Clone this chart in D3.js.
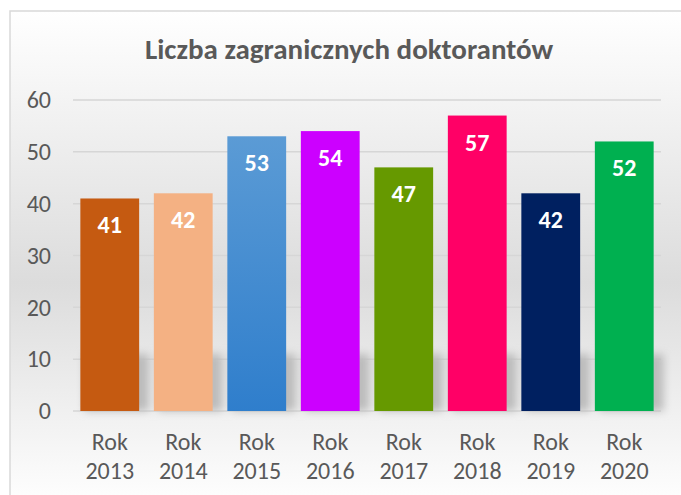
<!DOCTYPE html>
<html>
<head>
<meta charset="utf-8">
<script src="https://cdn.jsdelivr.net/npm/d3@7"></script>
<style>
  body { margin: 0; background: #fff; }
  svg { display: block; }
</style>
</head>
<body>
<script>
// dane z wykresu
const years = ["2013", "2014", "2015", "2016", "2017", "2018", "2019", "2020"];
const values = [41, 42, 53, 54, 47, 57, 42, 52];
const barColors = ["#C55A11", "#F4B183", "url(#blueGrad)", "#CC00FF", "#669900", "#FF0066", "#002060", "#00B050"];
const yTicks = [0, 10, 20, 30, 40, 50, 60];
const title = "Liczba zagranicznych doktorantów";

const width = 681, height = 495;
const margin = {top: 100, right: 20, bottom: 84, left: 73};
const font = "Carlito, 'Open Sans', 'Liberation Sans', sans-serif";

const svg = d3.select("body").append("svg")
    .attr("width", width)
    .attr("height", height);

const defs = svg.append("defs");

const bg = defs.append("linearGradient")
    .attr("id", "bgGrad")
    .attr("x1", 0).attr("y1", 0).attr("x2", 0).attr("y2", 1);
bg.append("stop").attr("offset", "0%").attr("stop-color", "#ffffff");
bg.append("stop").attr("offset", "55%").attr("stop-color", "#dcdcdc");
bg.append("stop").attr("offset", "100%").attr("stop-color", "#ffffff");

const blue = defs.append("linearGradient")
    .attr("id", "blueGrad")
    .attr("x1", 0).attr("y1", 0).attr("x2", 0).attr("y2", 1);
blue.append("stop").attr("offset", "0%").attr("stop-color", "#5B9BD5");
blue.append("stop").attr("offset", "100%").attr("stop-color", "#2F7ECC");

defs.append("filter")
    .attr("id", "blur")
    .attr("x", "-30%").attr("y", "-30%").attr("width", "160%").attr("height", "160%")
  .append("feGaussianBlur")
    .attr("stdDeviation", 4);

// tło + ramka
svg.append("rect")
    .attr("x", 10).attr("y", 11)
    .attr("width", width).attr("height", height)
    .attr("fill", "url(#bgGrad)")
    .attr("stroke", "#d9d9d9")
    .attr("stroke-width", 1.5);

const x = d3.scaleBand()
    .domain(years)
    .range([margin.left, width - margin.right])
    .paddingInner(0.2)
    .paddingOuter(0.1);

const y = d3.scaleLinear()
    .domain([0, 60])
    .range([411, margin.top]);

// siatka
svg.append("g")
  .selectAll("line")
  .data(yTicks)
  .join("line")
    .attr("x1", margin.left)
    .attr("x2", width - margin.right)
    .attr("y1", d => y(d))
    .attr("y2", d => y(d))
    .attr("stroke", "#d6d6d6")
    .attr("stroke-width", 1.5);

// etykiety osi Y
svg.append("g")
    .attr("transform", `translate(51,0)`)
    .call(d3.axisLeft(y).tickValues(yTicks).tickSize(0).tickPadding(0))
    .call(g => g.select(".domain").remove())
    .call(g => g.selectAll("text")
        .attr("font-family", font)
        .attr("font-size", 24)
        .attr("fill", "#595959"));

// cienie słupków
svg.append("g")
    .attr("filter", "url(#blur)")
  .selectAll("rect")
  .data(values)
  .join("rect")
    .attr("x", (d, i) => x(years[i]) + 4)
    .attr("y", y(11))
    .attr("width", x.bandwidth() + 6)
    .attr("height", y(0) - y(11))
    .attr("fill", "#bcbcbc");

// słupki
svg.append("g")
  .selectAll("rect")
  .data(values)
  .join("rect")
    .attr("x", (d, i) => x(years[i]))
    .attr("y", d => y(d))
    .attr("width", x.bandwidth())
    .attr("height", d => y(0) - y(d))
    .attr("fill", (d, i) => barColors[i]);

// wartości
svg.append("g")
  .selectAll("text")
  .data(values)
  .join("text")
    .attr("x", (d, i) => x(years[i]) + x.bandwidth() / 2)
    .attr("y", d => y(d) + 35)
    .attr("text-anchor", "middle")
    .attr("font-family", font)
    .attr("font-weight", "bold")
    .attr("font-size", 24)
    .attr("fill", "#ffffff")
    .text(d => d);

// etykiety osi X
const xl = svg.append("g")
  .selectAll("text")
  .data(years)
  .join("text")
    .attr("x", d => x(d) + x.bandwidth() / 2)
    .attr("y", 450)
    .attr("text-anchor", "middle")
    .attr("font-family", font)
    .attr("font-size", 24)
    .attr("fill", "#595959");
xl.append("tspan").attr("x", d => x(d) + x.bandwidth() / 2).text("Rok");
xl.append("tspan").attr("x", d => x(d) + x.bandwidth() / 2).attr("dy", 29).text(d => d);

// tytuł
svg.append("text")
    .attr("x", 349)
    .attr("y", 59)
    .attr("text-anchor", "middle")
    .attr("font-family", font)
    .attr("font-weight", "bold")
    .attr("font-size", 29)
    .attr("fill", "#595959")
    .text(title);
</script>
</body>
</html>
